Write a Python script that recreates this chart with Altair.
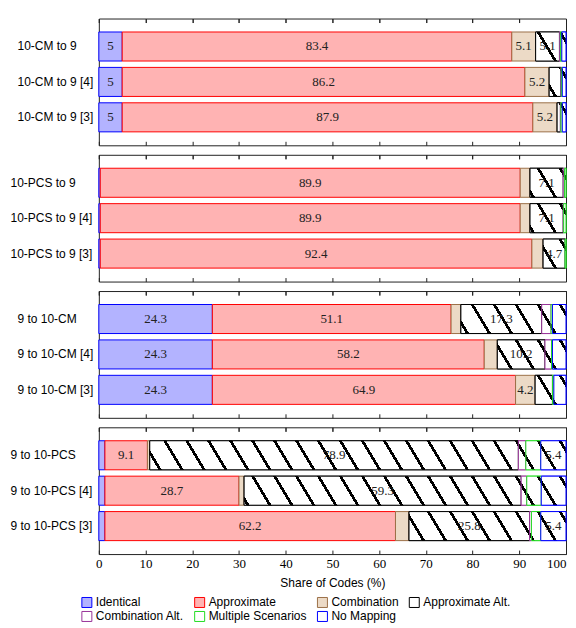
import math
import altair as alt

# ---------------- data ----------------
categories = ["Identical", "Approximate", "Combination", "Approximate Alt.",
              "Combination Alt.", "Multiple Scenarios", "No Mapping"]
fill_colors = ["#b3b3ff", "#ffb3b3", "#ecdac6", "#ffffff", "#ffffff", "#ffffff", "#ffffff"]
stroke_colors = ["#0000ff", "#ff0000", "#9c7048", "#000000", "#993399", "#22dd22", "#0000ff"]
hatched = ["Approximate Alt.", "Combination Alt.", "Multiple Scenarios", "No Mapping"]

groups = ["10-CM to 9", "10-PCS to 9", "9 to 10-CM", "9 to 10-PCS"]
rows = ["10-CM to 9", "10-CM to 9 [4]", "10-CM to 9 [3]",
        "10-PCS to 9", "10-PCS to 9 [4]", "10-PCS to 9 [3]",
        "9 to 10-CM", "9 to 10-CM [4]", "9 to 10-CM [3]",
        "9 to 10-PCS", "9 to 10-PCS [4]", "9 to 10-PCS [3]"]
row_group = [0, 0, 0, 1, 1, 1, 2, 2, 2, 3, 3, 3]

identical   = [5.0, 5.0, 5.0, 0.3, 0.3, 0.3, 24.3, 24.3, 24.3, 1.3, 1.3, 1.3]
approximate = [83.4, 86.2, 87.9, 89.9, 89.9, 92.4, 51.1, 58.2, 64.9, 9.1, 28.7, 62.2]
combination = [5.1, 5.2, 5.2, 2.1, 2.1, 2.4, 2.1, 2.8, 4.2, 0.5, 1.1, 2.9]
approx_alt  = [5.1, 2.5, 0.7, 7.1, 7.1, 4.7, 17.3, 10.2, 3.7, 78.9, 59.3, 25.8]
comb_alt    = [0.2, 0.1, 0.1, 0.3, 0.1, 0.0, 2.0, 1.4, 0.0, 1.6, 1.2, 0.4]
multiple    = [0.3, 0.2, 0.3, 0.3, 0.5, 0.2, 0.3, 0.2, 0.3, 3.2, 3.1, 2.0]
no_mapping  = [0.9, 0.8, 0.8, 0.0, 0.0, 0.0, 2.9, 2.9, 2.6, 5.4, 5.3, 5.4]
series = [identical, approximate, combination, approx_alt, comb_alt, multiple, no_mapping]

label_min = 4.0
unlabeled = [("9 to 10-PCS [4]", "No Mapping")]
x_ticks = [0, 10, 20, 30, 40, 50, 60, 70, 80, 90, 100]

# ---------------- layout / style ----------------
W, H = 468, 127
P_IN, P_OUT = 0.18, 0.38
step = H / (3 - P_IN + 2 * P_OUT)
BAR_H = step * (1 - P_IN)
SLOPE, PERIOD, THICK = 0.6, 22.0, 3.2
Y_LABEL_PAD = [82, 89, 82, 89]


def hatch_gradient(x0, w, h):
    D = w + SLOPE * h
    A = w / D
    B = -SLOPE * h / D
    n2 = A * A + B * B
    gx, gy = A / n2, B / n2
    half = THICK / 2 / D
    stops = [{"offset": 0, "color": "#ffffff"}]
    k0 = math.floor((x0 - SLOPE * h) / PERIOD) - 1
    k1 = math.ceil((x0 + w) / PERIOD) + 1
    for k in range(k0, k1 + 1):
        tc = (k * PERIOD - x0 + SLOPE * h) / D
        lo, hi = tc - half, tc + half
        if hi <= 0 or lo >= 1:
            continue
        lo, hi = max(lo, 0.0), min(hi, 1.0)
        stops += [{"offset": lo, "color": "#ffffff"}, {"offset": lo, "color": "#000000"},
                  {"offset": hi, "color": "#000000"}, {"offset": hi, "color": "#ffffff"}]
    stops.append({"offset": 1, "color": "#ffffff"})
    return {"gradient": "linear", "x1": 0, "y1": 1, "x2": gx, "y2": 1 + gy, "stops": stops}


records, hatch_recs, label_recs = [], [], []
for i, r in enumerate(rows):
    acc = 0.0
    for c, vals in zip(categories, series):
        v = vals[i]
        if v <= 0:
            continue
        rec = {"group": groups[row_group[i]], "row": r, "cat": c,
               "start": acc, "end": acc + v, "mid": acc + v / 2}
        records.append(rec)
        if c in hatched:
            h = dict(rec)
            h["grad"] = hatch_gradient(acc / 100 * W, v / 100 * W, BAR_H)
            hatch_recs.append(h)
        if v >= label_min and (r, c) not in unlabeled:
            lab = dict(rec)
            lab["label"] = f"{v:g}"
            label_recs.append(lab)
        acc += v

fill_scale = alt.Scale(domain=categories, range=fill_colors)
stroke_scale = alt.Scale(domain=categories, range=stroke_colors)
x_scale = alt.Scale(domain=[0, 100], nice=False, zero=True)

legend = alt.Legend(orient="none", legendX=-18, legendY=579, columns=4, direction="horizontal",
                    title=None, symbolType="square", symbolSize=100, symbolStrokeWidth=1,
                    labelFont="Liberation Sans", labelFontSize=12, labelColor="#000000",
                    columnPadding=8, rowPadding=0, labelOffset=3, padding=0)


def panel(gi):
    last = gi == len(groups) - 1
    g = groups[gi]
    row_order = [r for r, rg in zip(rows, row_group) if rg == gi]
    y_scale = alt.Scale(domain=row_order, paddingInner=P_IN, paddingOuter=P_OUT)
    bottom_axis = alt.Axis(orient="bottom", values=x_ticks, tickSize=4, offset=-4, domain=False,
                           grid=False, labels=last, tickColor="#222222",
                           labelAlign={"condition": {"test": "datum.value == 100", "value": "right"},
                                       "value": "center"},
                           labelFont="Liberation Serif", labelFontSize=13, labelColor="#000000",
                           labelPadding=3, titleFont="Liberation Sans", titleFontSize=12,
                           titleFontWeight="normal", titleColor="#000000", titlePadding=7)
    top_axis = alt.Axis(orient="top", values=x_ticks, tickSize=4, offset=-4, domain=False,
                        grid=False, labels=False, tickColor="#222222", title=None)
    y_axis = alt.Axis(ticks=False, domain=False, labelAlign="left", labelPadding=Y_LABEL_PAD[gi],
                      labelFont="Liberation Sans", labelFontSize=12, labelColor="#000000",
                      labelLimit=200)

    bars = alt.Chart(alt.Data(values=[r for r in records if r["group"] == g])).mark_bar(
        strokeWidth=1).encode(
        x=alt.X("start:Q", scale=x_scale, axis=bottom_axis,
                title="Share of Codes (%)" if last else None),
        x2="end:Q",
        y=alt.Y("row:N", scale=y_scale, axis=y_axis, title=None, sort=row_order),
        fill=alt.Fill("cat:N", scale=fill_scale, legend=legend),
        stroke=alt.Stroke("cat:N", scale=stroke_scale, legend=legend),
    )
    hatch = alt.Chart(alt.Data(values=[r for r in hatch_recs if r["group"] == g])).mark_bar(
        strokeWidth=1).encode(
        x=alt.X("start:Q", scale=x_scale, axis=top_axis, title=None),
        x2="end:Q",
        y=alt.Y("row:N", scale=y_scale, axis=y_axis, title=None, sort=row_order),
        fill=alt.Fill("grad:N", scale=None, legend=None),
        stroke=alt.Stroke("cat:N", scale=stroke_scale, legend=legend),
    )
    labels = alt.Chart(alt.Data(values=[r for r in label_recs if r["group"] == g])).mark_text(
        font="Liberation Serif", fontSize=13, color="#222222", baseline="middle").encode(
        x=alt.X("mid:Q", scale=x_scale, axis=top_axis, title=None),
        y=alt.Y("row:N", scale=y_scale, axis=y_axis, title=None, sort=row_order),
        text="label:N",
    )
    return alt.layer(bars, hatch, labels).resolve_axis(x="independent").properties(
        width=W, height=H)


chart = alt.vconcat(*[panel(i) for i in range(len(groups))], spacing=7.5).resolve_scale(
    fill="shared", stroke="shared").resolve_legend(fill="shared", stroke="shared").properties(
    padding={"left": 1, "top": 9, "right": 0, "bottom": 0}
).configure_view(stroke="#222222", strokeWidth=1)

chart.save("out.html", embed_options={"renderer": "svg", "actions": False})
